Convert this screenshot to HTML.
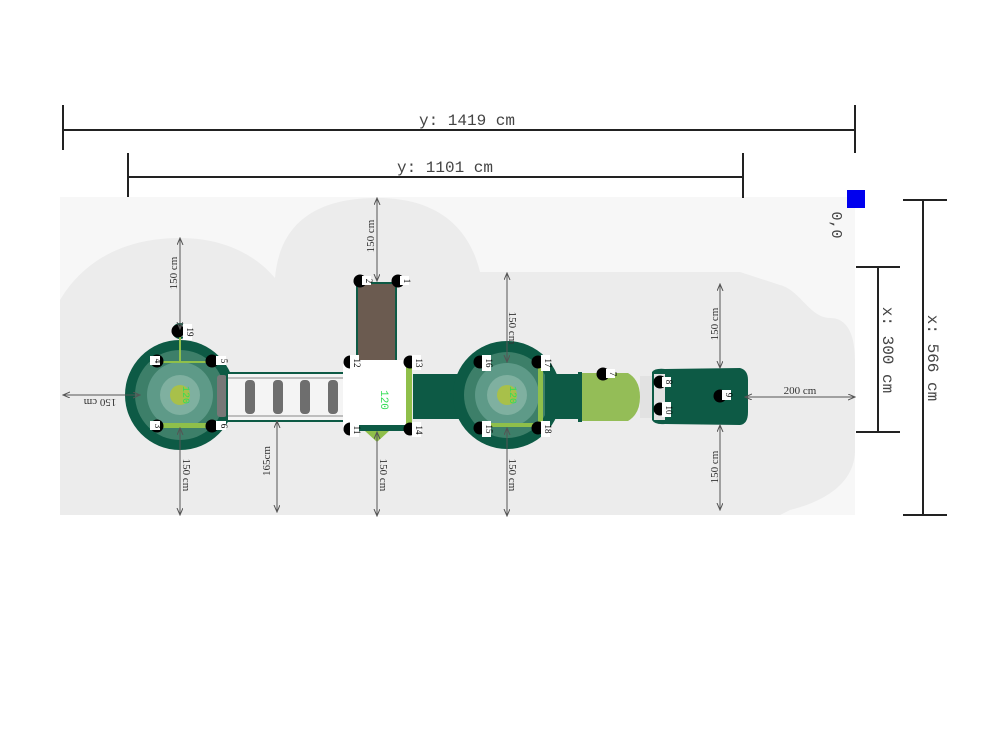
<!DOCTYPE html>
<html><head><meta charset="utf-8"><style>
html,body{margin:0;padding:0;background:#fff;width:1000px;height:750px;overflow:hidden}
svg{display:block}
.d{stroke:#555;stroke-width:1;fill:none}
.t{font-family:"Liberation Serif",serif;font-size:11px;fill:#333}
.m{font-family:"Liberation Mono",monospace;font-size:16px;fill:#444}
.lb{font-family:"Liberation Serif",serif;font-size:9px;fill:#000}
</style></head><body>
<svg width="1000" height="750" viewBox="0 0 1000 750" xmlns="http://www.w3.org/2000/svg">
<defs>
<marker id="a" markerWidth="8" markerHeight="8" refX="7" refY="3" orient="auto-start-reverse" markerUnits="userSpaceOnUse"><path d="M0,0 L7,3 L0,6" fill="none" stroke="#555" stroke-width="1"/></marker>
<g id="post"><circle cx="0" cy="0" r="6.5" fill="#000"/></g>
</defs>
<!-- background -->
<rect x="60" y="197" width="795" height="318" fill="#f7f7f7"/>
<path d="M60,515 L60,300 C90,250 140,238 180,238 C230,238 260,260 275,278 C280,220 320,198 377,198 C440,198 470,230 480,272 L740,272 L780,285 C800,290 810,318 830,318 C850,318 855,340 855,360 L855,450 C855,480 830,500 790,510 L780,515 Z" fill="#ececec"/>
<!-- top dims -->
<g stroke="#222" stroke-width="2">
<line x1="63" y1="130" x2="855" y2="130"/><line x1="63" y1="105" x2="63" y2="150"/><line x1="855" y1="105" x2="855" y2="153"/>
<line x1="128" y1="177" x2="743" y2="177"/><line x1="128" y1="153" x2="128" y2="197"/><line x1="743" y1="153" x2="743" y2="198"/>
<line x1="923" y1="200" x2="923" y2="515"/><line x1="903" y1="200" x2="947" y2="200"/><line x1="903" y1="515" x2="947" y2="515"/>
<line x1="878" y1="267" x2="878" y2="432"/><line x1="856" y1="267" x2="900" y2="267"/><line x1="856" y1="432" x2="900" y2="432"/>
</g>
<text class="m" x="467" y="125" text-anchor="middle">y: 1419 cm</text>
<text class="m" x="445" y="172" text-anchor="middle">y: 1101 cm</text>
<text class="m" transform="translate(928,358) rotate(90)" text-anchor="middle">x: 566 cm</text>
<text class="m" transform="translate(883,350) rotate(90)" text-anchor="middle">x: 300 cm</text>
<rect x="847" y="190" width="18" height="18" fill="#0000ee"/>
<text class="m" transform="translate(832,225) rotate(90)" text-anchor="middle" style="font-size:15px">0,0</text>
<!-- left tower -->
<circle cx="180" cy="331" r="7" fill="none" stroke="#0d5a45" stroke-width="2"/>
<circle cx="180" cy="395" r="55" fill="#0d5a45"/>
<circle cx="180" cy="395" r="45" fill="#3d7f69"/>
<circle cx="180" cy="395" r="33" fill="#5e9a88"/>
<circle cx="180" cy="395" r="20" fill="#7fb0a0"/>
<circle cx="180" cy="395" r="10" fill="#a8c04a"/>
<line x1="180" y1="335" x2="180" y2="362" stroke="#8fbf4a" stroke-width="2"/>
<line x1="158" y1="362" x2="212" y2="362" stroke="#8fbf4a" stroke-width="2"/>
<rect x="160" y="423" width="52" height="5" fill="#8fbf4a"/>
<rect x="217" y="375" width="10" height="42" rx="3" fill="#777"/>
<!-- bridge -->
<rect x="227" y="373" width="118" height="48" fill="#f4f4f4" stroke="#0d5a45" stroke-width="2"/>
<line x1="228" y1="378" x2="344" y2="378" stroke="#888"/><line x1="228" y1="416" x2="344" y2="416" stroke="#888"/>
<g fill="#6e6e6e"><rect x="245" y="380" width="10" height="34" rx="4"/><rect x="273" y="380" width="10" height="34" rx="4"/><rect x="300" y="380" width="10" height="34" rx="4"/><rect x="328" y="380" width="10" height="34" rx="4"/></g>
<!-- ramp & platform -->
<rect x="357" y="283" width="39" height="80" fill="#6b5b50" stroke="#0d5a45" stroke-width="2"/>
<rect x="413" y="374" width="50" height="45" fill="#0d5a45"/>
<rect x="343" y="360" width="67" height="70" fill="#fff"/>
<rect x="406" y="364" width="6" height="62" fill="#8fbf4a"/>
<rect x="350" y="425" width="55" height="6" fill="#0d5a45"/>
<path d="M365,431 L389,431 L377,442 Z" fill="#8fbf4a"/>
<text transform="translate(381,400) rotate(90)" text-anchor="middle" style="font-family:'Liberation Mono',monospace;font-size:11px;fill:#33dd55">120</text>
<!-- tower 2 -->
<circle cx="507" cy="395" r="54" fill="#0d5a45"/>
<circle cx="507" cy="395" r="43" fill="#3d7f69"/>
<circle cx="507" cy="395" r="32" fill="#5e9a88"/>
<circle cx="507" cy="395" r="20" fill="#7fb0a0"/>
<circle cx="507" cy="395" r="10" fill="#a8c04a"/>
<rect x="538" y="364" width="5" height="62" fill="#8fbf4a"/>
<rect x="480" y="423" width="55" height="4" fill="#8fbf4a"/>
<rect x="545" y="374" width="33" height="45" fill="#0d5a45"/>
<rect x="578" y="372" width="4" height="50" fill="#0d5a45"/>
<path d="M582,373 L628,373 Q640,380 640,397 Q640,414 628,421 L582,421 Z" fill="#94bd57"/>
<rect x="640" y="376" width="14" height="42" fill="#e2e2e2"/>
<path d="M652,372 Q655,368 665,369 L740,368 Q748,370 748,380 L748,412 Q748,424 740,425 L665,424 Q655,425 652,420 Z" fill="#0d5a45"/>
<path d="M654,374 L665,374 L665,420 L654,420 Z" fill="#e2e2e2"/>
<!-- posts -->
<g>
<use href="#post" x="157" y="361"/><use href="#post" x="212" y="361"/><use href="#post" x="157" y="426"/><use href="#post" x="212" y="426"/>
<use href="#post" x="178" y="331"/>
<use href="#post" x="360" y="281"/><use href="#post" x="398" y="281"/>
<use href="#post" x="350" y="362"/><use href="#post" x="410" y="362"/><use href="#post" x="350" y="429"/><use href="#post" x="410" y="429"/>
<use href="#post" x="480" y="362"/><use href="#post" x="538" y="362"/><use href="#post" x="480" y="428"/><use href="#post" x="538" y="428"/>
<use href="#post" x="603" y="374"/><use href="#post" x="660" y="382"/><use href="#post" x="660" y="409"/><use href="#post" x="720" y="396"/>
</g>
<g fill="#fff">
<rect x="150" y="356" width="10" height="9"/><rect x="216" y="356" width="10" height="9"/><rect x="150" y="421" width="10" height="9"/><rect x="216" y="421" width="10" height="9"/>
<rect x="183" y="324" width="9" height="16"/>
<rect x="362" y="276" width="9" height="9"/><rect x="400" y="276" width="9" height="9"/>
<rect x="350" y="355" width="9" height="15"/><rect x="412" y="355" width="9" height="15"/><rect x="350" y="422" width="9" height="15"/><rect x="412" y="422" width="9" height="15"/>
<rect x="482" y="355" width="9" height="16"/><rect x="541" y="355" width="9" height="16"/><rect x="482" y="421" width="9" height="16"/><rect x="541" y="421" width="9" height="16"/>
<rect x="606" y="369" width="9" height="9"/><rect x="662" y="377" width="9" height="10"/><rect x="662" y="402" width="9" height="15"/><rect x="722" y="390" width="9" height="10"/>
</g>
<g class="lb" text-anchor="middle">
<text transform="translate(155,361) rotate(90)">4</text><text transform="translate(221,361) rotate(90)">5</text>
<text transform="translate(155,426) rotate(90)">3</text><text transform="translate(221,426) rotate(90)">6</text>
<text transform="translate(187,332) rotate(90)">19</text>
<text transform="translate(366,281) rotate(90)">2</text><text transform="translate(404,281) rotate(90)">1</text>
<text transform="translate(354,363) rotate(90)">12</text><text transform="translate(416,363) rotate(90)">13</text>
<text transform="translate(354,430) rotate(90)">11</text><text transform="translate(416,430) rotate(90)">14</text>
<text transform="translate(486,363) rotate(90)">16</text><text transform="translate(545,363) rotate(90)">17</text>
<text transform="translate(486,429) rotate(90)">15</text><text transform="translate(545,429) rotate(90)">18</text>
<text transform="translate(610,374) rotate(90)">7</text><text transform="translate(666,382) rotate(90)">8</text>
<text transform="translate(666,410) rotate(90)">10</text><text transform="translate(726,395) rotate(90)">9</text>
</g>
<text transform="translate(183,395) rotate(90)" text-anchor="middle" style="font-family:'Liberation Mono',monospace;font-size:10px;fill:#33dd55">120</text>
<text transform="translate(510,395) rotate(90)" text-anchor="middle" style="font-family:'Liberation Mono',monospace;font-size:10px;fill:#33dd55">120</text>
<!-- dimension arrows -->
<g class="d">
<line x1="180" y1="238" x2="180" y2="329" marker-start="url(#a)" marker-end="url(#a)"/>
<line x1="180" y1="428" x2="180" y2="515" marker-start="url(#a)" marker-end="url(#a)"/>
<line x1="140" y1="395" x2="63" y2="395" marker-start="url(#a)" marker-end="url(#a)"/>
<line x1="277" y1="421" x2="277" y2="512" marker-start="url(#a)" marker-end="url(#a)"/>
<line x1="377" y1="198" x2="377" y2="281" marker-start="url(#a)" marker-end="url(#a)"/>
<line x1="377" y1="432" x2="377" y2="516" marker-start="url(#a)" marker-end="url(#a)"/>
<line x1="507" y1="273" x2="507" y2="362" marker-start="url(#a)" marker-end="url(#a)"/>
<line x1="507" y1="428" x2="507" y2="516" marker-start="url(#a)" marker-end="url(#a)"/>
<line x1="720" y1="284" x2="720" y2="368" marker-start="url(#a)" marker-end="url(#a)"/>
<line x1="720" y1="425" x2="720" y2="510" marker-start="url(#a)" marker-end="url(#a)"/>
<line x1="745" y1="397" x2="855" y2="397" marker-start="url(#a)" marker-end="url(#a)"/>
</g>
<g class="t" text-anchor="middle">
<text transform="translate(177,273) rotate(-90)">150 cm</text>
<text transform="translate(183,475) rotate(90)">150 cm</text>
<text transform="translate(100,399) rotate(180)">150 cm</text>
<text transform="translate(270,461) rotate(-90)">165cm</text>
<text transform="translate(374,236) rotate(-90)">150 cm</text>
<text transform="translate(380,475) rotate(90)">150 cm</text>
<text transform="translate(509,328) rotate(90)">150 cm</text>
<text transform="translate(509,475) rotate(90)">150 cm</text>
<text transform="translate(718,324) rotate(-90)">150 cm</text>
<text transform="translate(718,467) rotate(-90)">150 cm</text>
<text x="800" y="394">200 cm</text>
</g>
</svg>
</body></html>
